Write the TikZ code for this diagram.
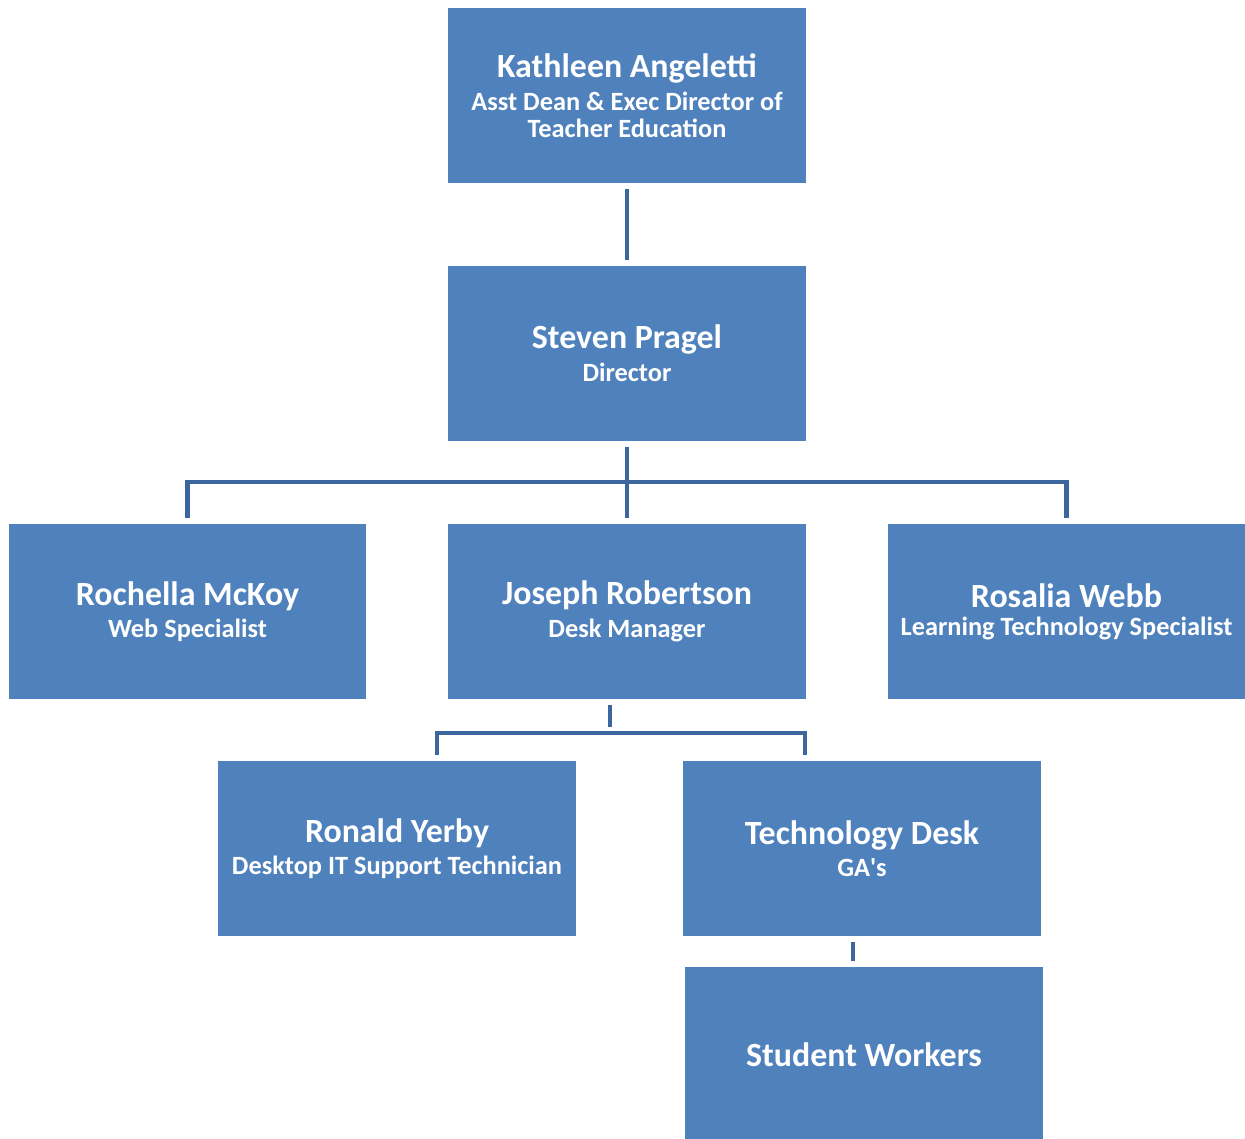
\documentclass[tikz,border=0pt]{standalone}
\usepackage{fontspec}
\setmainfont{Carlito}
\usepackage{tikz}
\definecolor{boxBlue}{RGB}{79, 129, 189}
\definecolor{lineBlue}{RGB}{60, 102, 158}
\newcommand{\nameline}[1]{{\fontsize{19.3}{21}\selectfont #1}}
\newcommand{\roleline}[1]{{\fontsize{15}{17}\selectfont #1}}

\begin{document}
\begin{tikzpicture}[x=0.02cm, y=-0.02cm,
    person/.style={fill=boxBlue, text=white, font=\bfseries, align=center,
      minimum width=7.16cm, minimum height=3.5cm, inner sep=0pt},
    link/.style={draw=lineBlue, line width=2.8pt, shorten <=3.4pt, shorten >=3.4pt}]
        \useasboundingbox (0,0) rectangle (1245,1139);
        % top of the chart
        \node[person] (kathleen) at (627,95.5)
          {\nameline{Kathleen Angeletti}\\[4pt]
           \roleline{Asst Dean \& Exec Director of}\\[3pt]
           \roleline{Teacher Education}};
        \node[person] (steven) at (627,353.5)
          {\nameline{Steven Pragel}\\[4pt] \roleline{Director}};
        % second row
        \node[person] (rochella) at (187.5,611.5)
          {\nameline{Rochella McKoy}\\[4pt] \roleline{Web Specialist}};
        \node[person] (joseph) at (627,611.5)
          {\nameline{Joseph Robertson}\\[4pt] \roleline{Desk Manager}};
        \node[person] (rosalia) at (1066.5,611.5)
          {\nameline{Rosalia Webb}\\[4pt] \roleline{Learning Technology Specialist}};
        % third row
        \node[person] (ronald) at (397,848.5)
          {\nameline{Ronald Yerby}\\[4pt] \roleline{Desktop IT Support Technician}};
        \node[person] (techdesk) at (862,848.5)
          {\nameline{Technology Desk}\\[4pt] \roleline{GA\textquotesingle s}};
        \node[person] (students) at (864,1054.5) {\nameline{Student Workers}};
        % connectors
        \coordinate (bus1) at (627,482);
        \coordinate (j2) at (610,733);
        \coordinate (r2) at (437,733);
        \coordinate (t2) at (805,733);
        \coordinate (s2) at (853,0);
        \draw[link] (kathleen) -- (steven);
        \draw[link] (steven) -- (joseph);
        \draw[link] (rochella.north) |- (bus1) -| (rosalia.north);
        \draw[link] (joseph.south -| j2) -- (j2);
        \draw[link] (ronald.north -| r2) |- (t2) -- (techdesk.north -| t2);
        \draw[link] (techdesk.south -| s2) -- (students.north -| s2);
      \end{tikzpicture}
\end{document}
